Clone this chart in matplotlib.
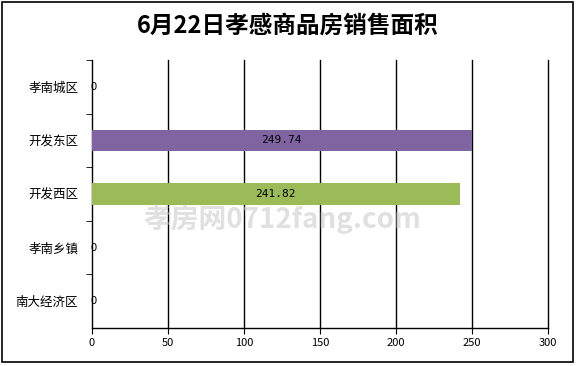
import matplotlib.pyplot as plt
from matplotlib.patches import Rectangle

plt.rcParams['font.family'] = ['Noto Sans CJK SC', 'DejaVu Sans']

# data
districts = ['孝南城区', '开发东区', '开发西区', '孝南乡镇', '南大经济区']
areas = [0, 249.74, 241.82, 0, 0]
colors = ['#4F81BD', '#8064A2', '#9BBB59', '#4BACC6', '#F79646']
title = '6月22日孝感商品房销售面积'

fig = plt.figure(figsize=(5.76, 3.66), dpi=100)
ax = fig.add_axes([92 / 576, 1 - 328 / 366, 456 / 576, 268 / 366])

# outer frame
fig.patches.append(Rectangle((2 / 576, 4 / 366), 571 / 576, 360 / 366,
                             transform=fig.transFigure, fill=False,
                             edgecolor='black', linewidth=1.2))

ypos = list(range(len(districts)))
ax.barh(ypos, areas, height=0.4, color=colors, zorder=3)
for y, v in zip(ypos, areas):
    if v > 0:
        ax.text(v / 2, y, '%.2f' % v, ha='center', va='center', fontsize=8,
                family='DejaVu Sans Mono', zorder=5)
    else:
        ax.text(-1, y, '0', ha='left', va='center', fontsize=8, zorder=5)

ax.set_xlim(0, 300)
ax.set_ylim(len(districts) - 0.5, -0.5)
ax.set_xticks(range(0, 301, 50))
ax.tick_params(axis='x', labelsize=8, length=4, direction='out')
ax.set_yticks(ypos)
ax.set_yticklabels(districts, fontsize=9)
ax.tick_params(axis='y', which='major', length=0, pad=10)
ax.set_yticks([y + 0.5 for y in ypos[:-1]] + [-0.5], minor=True)
ax.tick_params(axis='y', which='minor', length=4, direction='out')
for xv in range(50, 301, 50):
    ax.axvline(xv, color='black', linewidth=1, zorder=0, clip_on=False)
for s in ['top', 'right']:
    ax.spines[s].set_visible(False)
ax.spines['left'].set_linewidth(1)
ax.spines['bottom'].set_linewidth(1)

# watermark
fig.text(0.49, 1 - 219 / 366, '孝房网0712fang.com', ha='center', va='center',
         fontsize=20, color='#c8c8c8', alpha=0.55, fontweight='bold', zorder=10)

fig.text(0.5, 1 - 26 / 366, title, ha='center', va='center', fontsize=17,
         fontweight='bold')

fig.savefig('out.png', dpi=100)
